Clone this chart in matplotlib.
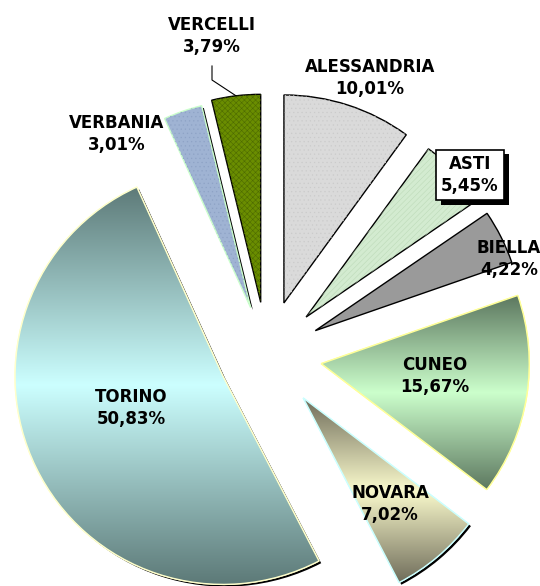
import matplotlib
matplotlib.use('Agg')
import matplotlib.pyplot as plt
import matplotlib.patheffects as pe
from matplotlib.patches import PathPatch
from matplotlib.colors import LinearSegmentedColormap
import numpy as np

#---Data---
province = ['ALESSANDRIA', 'ASTI', 'BIELLA', 'CUNEO', 'NOVARA', 'TORINO', 'VERBANIA', 'VERCELLI']
quote = [10.01, 5.45, 4.22, 15.67, 7.02, 50.83, 3.01, 3.79]

W, H = 540, 586
R = 208.0  # pie radius in pixels


def px(x, y):
    # pixel position (from top left) -> data units (1 unit = pie radius)
    return x / R, (H - y) / R


fig = plt.figure(figsize=(W / 100, H / 100), dpi=100)
ax = fig.add_axes([0, 0, 1, 1])

explode = [0.263, 0.262, 0.26, 0.264, 0.27, 0.235, 0.24, 0.255]
wedges, _ = ax.pie(quote, explode=explode, startangle=90, counterclock=False,
                   radius=1, center=px(267, 355))

#---Slice styles---
# solid/hatched slices: face, edge, hatch, hatch colour
flat = {
    'ALESSANDRIA': ('#dadada', 'black', '....', '#cbcbcb'),
    'ASTI': ('#d3ebd0', 'black', '//////', '#bddbb9'),
    'BIELLA': ('#9a9a9a', 'black', None, None),
    'VERBANIA': ('#9fb3d3', '#ccffcc', '....', '#8ea3c6'),
    'VERCELLI': ('#6a8d00', 'black', 'xxxxxx', '#4e6b00'),
}
# gradient slices: dark, light, edge
grad = {
    'CUNEO': ('#5c775f', '#ccffcc', '#ffff99'),
    'NOVARA': ('#6f6c5a', '#fafacc', '#ccffff'),
    'TORINO': ('#5d7a78', '#ccffff', '#ffffcc'),
}
shadowed = ['TORINO', 'VERBANIA', 'NOVARA']

plt.rcParams['hatch.linewidth'] = 0.4

for name, w in zip(province, wedges):
    w.set_zorder(1)
    if name in shadowed:
        w.set_path_effects([pe.SimplePatchShadow(offset=(1.6, -1.6), shadow_rgbFace='black', alpha=1),
                            pe.Normal()])
    if name in flat:
        fc, ec, hatch, hc = flat[name]
        w.set_facecolor(fc)
        w.set_edgecolor(ec)
        w.set_linewidth(1.0)
        if hatch:
            ax.add_patch(PathPatch(w.get_path(), facecolor='none', edgecolor=hc,
                                   linewidth=0, hatch=hatch, zorder=2))
    else:
        dark, light, ec = grad[name]
        w.set_facecolor(light)
        w.set_edgecolor(ec)
        ext = w.get_path().get_extents()
        cmap = LinearSegmentedColormap.from_list(name, [dark, light, dark])
        g = np.linspace(0, 1, 256).reshape(-1, 1)
        im = ax.imshow(g, cmap=cmap, extent=[ext.x0, ext.x1, ext.y0, ext.y1],
                       origin='lower', aspect='auto', interpolation='bilinear', zorder=2)
        im.set_clip_path(w)
        ax.add_patch(PathPatch(w.get_path(), facecolor='none', edgecolor=ec,
                               linewidth=1.0, zorder=3))

#---Labels---
label_pos = {
    'ALESSANDRIA': (370, 78),
    'ASTI': (470, 175),
    'BIELLA': (509, 259),
    'CUNEO': (435, 376),
    'NOVARA': (390, 504),
    'TORINO': (131, 408),
    'VERBANIA': (117, 134),
    'VERCELLI': (212, 36),
}
for name, q in zip(province, quote):
    txt = name + '\n' + ('%.2f%%' % q).replace('.', ',')
    x, y = px(*label_pos[name])
    t = ax.text(x, y, txt, ha='center', va='center', multialignment='center',
                fontsize=12, fontweight='bold', linespacing=1.35, zorder=5)
    if name == 'ASTI':
        t.set_bbox(dict(boxstyle='square,pad=0.3', facecolor='white', edgecolor='black', linewidth=1.2))
        t.get_bbox_patch().set_path_effects([pe.SimplePatchShadow(offset=(3.5, -3.5), shadow_rgbFace='black', alpha=1),
                                             pe.Normal()])

# leader line for VERCELLI
w = wedges[province.index('VERCELLI')]
tm = np.deg2rad(0.5 * (w.theta1 + w.theta2))
ex, ey = w.center[0] + w.r * np.cos(tm), w.center[1] + w.r * np.sin(tm)
x0, y0 = px(212, 66)
x1, y1 = px(212, 80)
ax.plot([x0, x1, ex], [y0, y1, ey], color='black', linewidth=0.8, zorder=4)

ax.set_xlim(0, W / R)
ax.set_ylim(0, H / R)
ax.axis('off')

plt.savefig('out.png', dpi=100)
